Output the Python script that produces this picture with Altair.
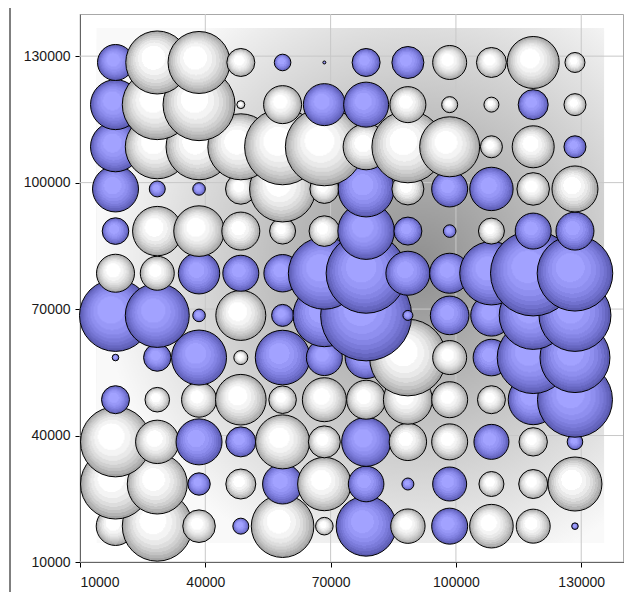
import altair as alt
import pandas as pd

# grid positions of the bubbles
x_vals = [18500, 28500, 38500, 48500, 58500, 68500, 78500, 88500, 98500, 108500, 118500, 128500]
y_vals = [128500, 118500, 108500, 98500, 88500, 78500, 68500, 58500, 48500, 38500, 28500, 18500]  # top row first

# series per row: B = blue series, W = white series
kinds = [
    "BWWWBBBBWWWW",
    "BWWWWBBWWWBW",
    "BWWWWWWWWWWB",
    "BBBWWWBWBBWW",
    "BWWWWWBBBWBB",
    "WWBBBBBBBBBB",
    "BBBWBBBBBBBB",
    "BBBWBBBWWBBB",
    "BWWWWWWWWWBB",
    "WWBBWWBWWBWB",
    "WWBWBWBBBWWW",
    "WWWBWWBWBWWB",
]
values = [
    [18, 31.5, 31, 14, 8.3, 1.5, 14, 16, 17, 15, 26, 10],
    [25, 35, 36, 4, 19, 21, 22.5, 18, 8, 7.5, 15, 11],
    [25, 32, 33, 33, 38, 39, 23, 36, 30, 11, 21, 11],
    [23, 8, 6.3, 15.3, 33, 14.5, 28, 16, 18, 21.7, 16.3, 23],
    [13.3, 24.7, 25.3, 19, 13, 15.3, 28.3, 14, 6.3, 13, 18, 19],
    [19, 17, 20.7, 18, 18.7, 36, 40, 22, 20, 31.7, 42.7, 37.8],
    [36, 32, 6.3, 25, 11, 31.3, 45.5, 5, 19.3, 20.7, 34, 36],
    [3.3, 13.7, 27.5, 7, 27.3, 18, 21, 38.3, 17, 18.3, 36, 35],
    [14, 12.3, 17.5, 25.3, 13.8, 22, 19.5, 24.5, 18, 14, 25, 37.5],
    [35, 21.7, 23, 15, 27, 16, 24.5, 18.7, 18, 17.5, 14.2, 7.8],
    [35, 30, 11.2, 15, 20, 26.7, 17.8, 6, 17, 12.5, 14.5, 27],
    [19.3, 35, 16.3, 8, 31.3, 8.8, 30, 17.2, 18, 21.8, 17, 3.3],
]
tick_vals = [10000, 40000, 70000, 100000, 130000]
domain = [10000, 140000]
bg_box = {"x0": [14000], "x1": [135500], "y0": [14500], "y1": [136700]}

# build table: bottom row first, left to right (drawing order)
rows = []
for r in range(len(y_vals) - 1, -1, -1):
    for c in range(len(x_vals)):
        rows.append({"x": x_vals[c], "y": y_vals[r], "v": values[r][c], "k": kinds[r][c]})
df = pd.DataFrame(rows)

W, H = 543, 548
FONT = "Liberation Sans"


def bands(offsets, colors):
    stops = []
    for i, col in enumerate(colors):
        stops.append({"offset": offsets[i], "color": col})
        stops.append({"offset": offsets[i + 1], "color": col})
    return stops


offs = [0, 0.38, 0.52, 0.63, 0.72, 0.80, 0.87, 0.94, 1.0]
white_cols = ["#ffffff", "#f4f4f4", "#e9e9e9", "#dddddd", "#d0d0d0", "#c3c3c3", "#b4b4b4", "#a4a4a4"]
blue_cols = ["#a2a2ff", "#9898f7", "#8f8fef", "#8585e5", "#7b7bda", "#7171ce", "#6666c0", "#5b5bb0"]

grad_w = {"gradient": "radial", "x1": 0.4, "y1": 0.38, "r1": 0, "x2": 0.5, "y2": 0.5, "r2": 0.5,
          "stops": bands(offs, white_cols)}
grad_b = {"gradient": "radial", "x1": 0.4, "y1": 0.38, "r1": 0, "x2": 0.5, "y2": 0.5, "r2": 0.5,
          "stops": bands(offs, blue_cols)}
grad_bg = {"gradient": "radial", "x1": 0.63, "y1": 0.46, "r1": 0, "x2": 0.63, "y2": 0.46, "r2": 0.62,
           "stops": [{"offset": 0, "color": "#8e8e8e"}, {"offset": 0.5, "color": "#c4c4c4"},
                     {"offset": 1, "color": "#f9f9f9"}]}

xs = alt.Scale(domain=domain, nice=False, zero=False)
ys = alt.Scale(domain=domain, nice=False, zero=False)
xaxis = alt.Axis(values=tick_vals, title=None, grid=False, format="d", labelPadding=8)
yaxis = alt.Axis(values=tick_vals, title=None, grid=False, format="d", labelPadding=5)

bg = alt.Chart(pd.DataFrame(bg_box)).mark_rect(fill=grad_bg).encode(
    x=alt.X("x0:Q", scale=xs, axis=xaxis), x2="x1:Q",
    y=alt.Y("y0:Q", scale=ys, axis=yaxis), y2="y1:Q",
)
ticks_df = pd.DataFrame({"t": tick_vals})
vgrid = alt.Chart(ticks_df).mark_rule(color="#c8c8c8", strokeWidth=1).encode(
    x=alt.X("t:Q", scale=xs, axis=xaxis)
)
hgrid = alt.Chart(ticks_df).mark_rule(color="#c8c8c8", strokeWidth=1).encode(
    y=alt.Y("t:Q", scale=ys, axis=yaxis)
)
bubbles = alt.Chart(df).mark_circle(opacity=1, stroke="#000000", strokeWidth=1).encode(
    x=alt.X("x:Q", scale=xs, axis=xaxis),
    y=alt.Y("y:Q", scale=ys, axis=yaxis),
    size=alt.Size("v:Q", scale=alt.Scale(type="pow", exponent=2, domain=[0, 46], range=[0, 8464]), legend=None),
    fill=alt.condition("datum.k == 'B'", alt.value(grad_b), alt.value(grad_w)),
)
frame = alt.Chart(pd.DataFrame({"a": [0]})).mark_rule(color="#000000", strokeWidth=1).encode(
    x=alt.value(-70), y=alt.value(-6), y2=alt.value(H + 30)
)

chart = alt.layer(bg, vgrid, hgrid, bubbles, frame).properties(
    width=W, height=H,
    autosize=alt.AutoSizeParams(type="none"),
    padding={"left": 72, "top": 6, "right": 5, "bottom": 30},
).configure_view(stroke="#a8a8a8", strokeWidth=1).configure_axis(
    domainColor="#000000", tickColor="#000000", tickSize=5,
    labelFont=FONT, labelFontSize=14, labelColor="#1a1a1a",
)

chart.save("out.html", embed_options={"renderer": "svg", "actions": False})
